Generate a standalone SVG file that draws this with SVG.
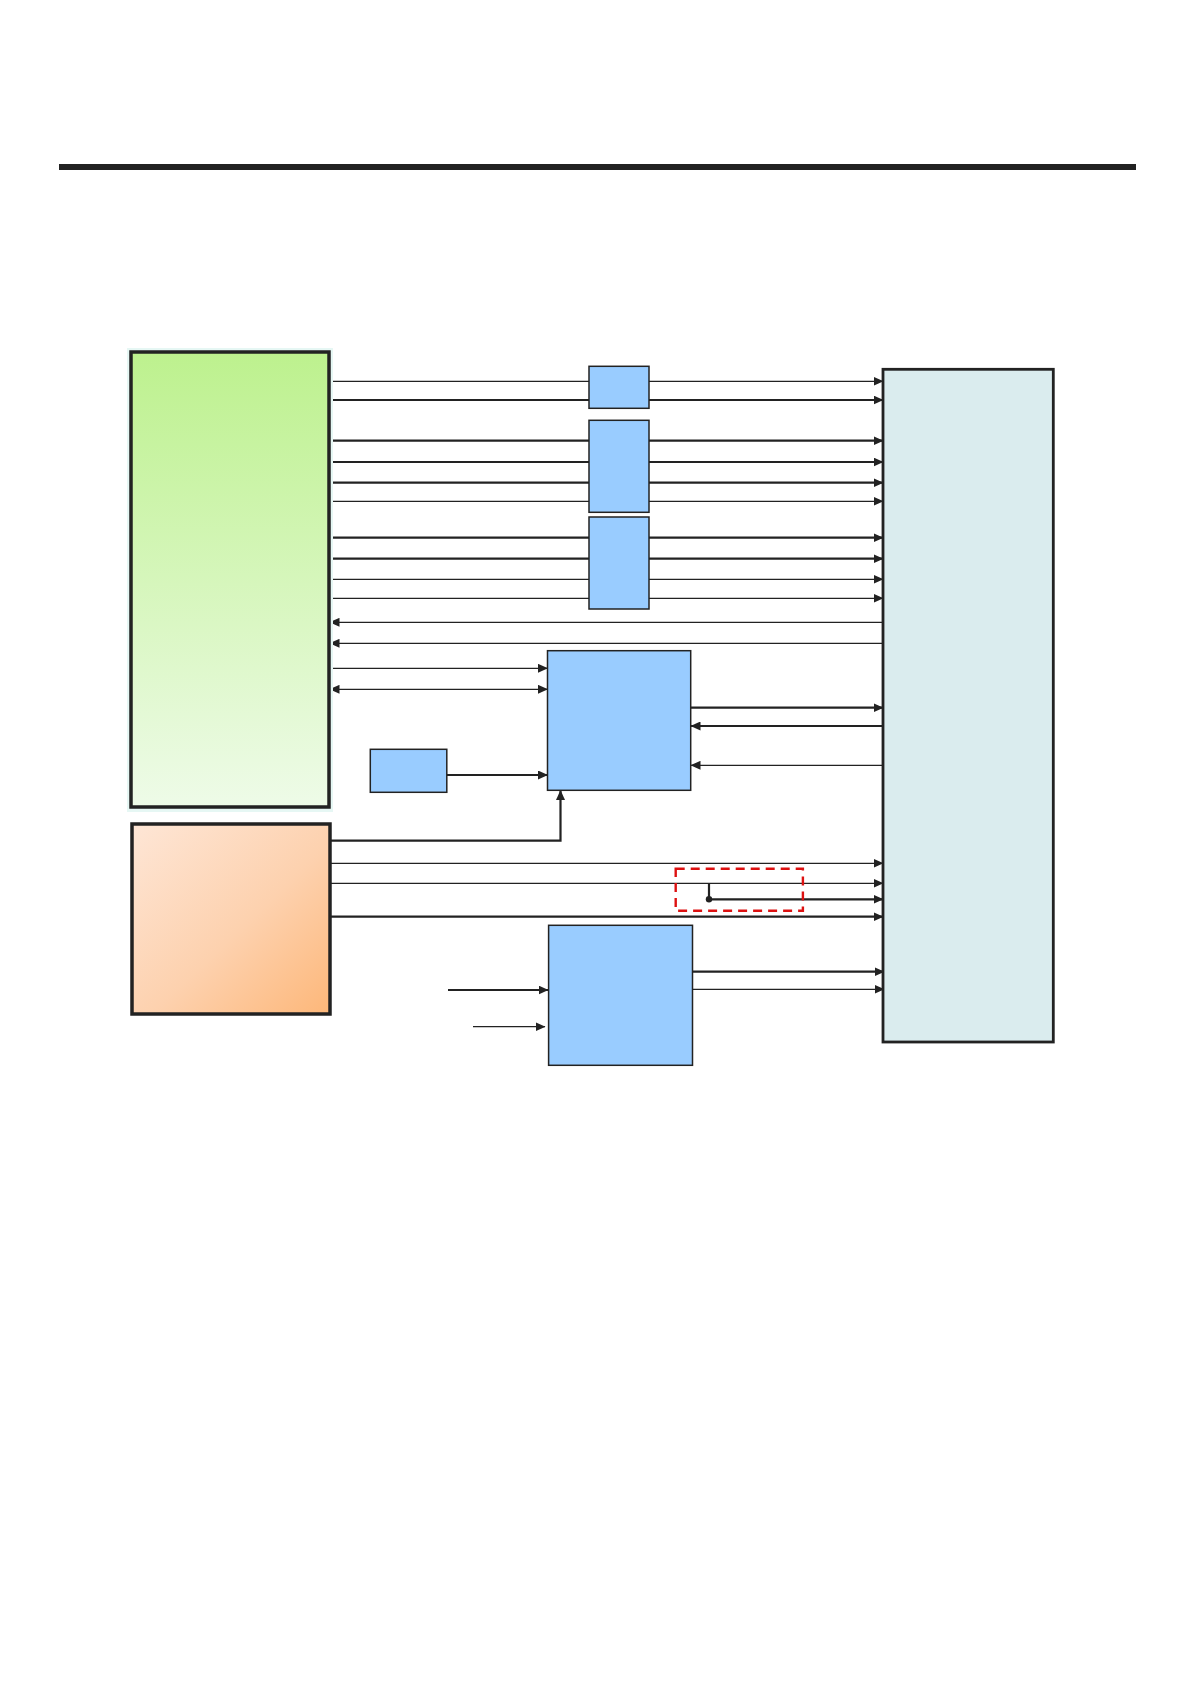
<svg xmlns="http://www.w3.org/2000/svg" width="1191" height="1684" viewBox="0 0 1191 1684">
<defs>
<linearGradient id="gGreen" x1="0" y1="0" x2="0" y2="1">
<stop offset="0" stop-color="#bdf18e"/>
<stop offset="1" stop-color="#eefbe8"/>
</linearGradient>
<linearGradient id="gOrange" x1="0" y1="0" x2="1" y2="1">
<stop offset="0" stop-color="#fee6d6"/>
<stop offset="0.55" stop-color="#fdd1ae"/>
<stop offset="1" stop-color="#fdb779"/>
</linearGradient>
<marker id="arr" markerUnits="userSpaceOnUse" markerWidth="10" markerHeight="9" refX="9.5" refY="4.5" orient="auto-start-reverse" viewBox="0 0 10 9">
<path d="M0,0 L10,4.5 L0,9 z" fill="#222"/>
</marker>
</defs>
<style>
.thin{stroke:#222;stroke-width:1.2;fill:none}
.thick{stroke:#222;stroke-width:2.2;fill:none}
.a{marker-end:url(#arr)}
.b{marker-start:url(#arr)}
.blue{fill:#99ccff;stroke:#222;stroke-width:1.5}
</style>
<rect x="59" y="164" width="1077" height="6" fill="#222"/>
<g id="connectors">
<line class="thin" x1="330" y1="381.3" x2="589" y2="381.3"/>
<line class="thin a" x1="649" y1="381.3" x2="883" y2="381.3"/>
<line class="thick" x1="330" y1="400" x2="589" y2="400"/>
<line class="thick a" x1="649" y1="400" x2="883" y2="400"/>
<line class="thick" x1="330" y1="440.7" x2="589" y2="440.7"/>
<line class="thick a" x1="649" y1="440.7" x2="883" y2="440.7"/>
<line class="thick" x1="330" y1="462" x2="589" y2="462"/>
<line class="thick a" x1="649" y1="462" x2="883" y2="462"/>
<line class="thick" x1="330" y1="482.7" x2="589" y2="482.7"/>
<line class="thick a" x1="649" y1="482.7" x2="883" y2="482.7"/>
<line class="thin" x1="330" y1="501.3" x2="589" y2="501.3"/>
<line class="thin a" x1="649" y1="501.3" x2="883" y2="501.3"/>
<line class="thick" x1="330" y1="537.7" x2="589" y2="537.7"/>
<line class="thick a" x1="649" y1="537.7" x2="883" y2="537.7"/>
<line class="thick" x1="330" y1="558.7" x2="589" y2="558.7"/>
<line class="thick a" x1="649" y1="558.7" x2="883" y2="558.7"/>
<line class="thin" x1="330" y1="579.3" x2="589" y2="579.3"/>
<line class="thin a" x1="649" y1="579.3" x2="883" y2="579.3"/>
<line class="thin" x1="330" y1="598.3" x2="589" y2="598.3"/>
<line class="thin a" x1="649" y1="598.3" x2="883" y2="598.3"/>
<line class="thin a" x1="883" y1="622.3" x2="330" y2="622.3"/>
<line class="thin a" x1="883" y1="643.3" x2="330" y2="643.3"/>
<line class="thin a" x1="330" y1="668.3" x2="547.5" y2="668.3"/>
<line class="thin a b" x1="330" y1="689.3" x2="547.5" y2="689.3"/>
<line class="thick a" x1="447" y1="775" x2="547.5" y2="775"/>
<polyline class="thick a" points="330,840.7 560.5,840.7 560.5,790.5"/>
<line class="thick a" x1="691" y1="707.7" x2="883" y2="707.7"/>
<line class="thick a" x1="883" y1="726" x2="691" y2="726"/>
<line class="thin a" x1="883" y1="765.3" x2="691" y2="765.3"/>
<line class="thin a" x1="330" y1="863.3" x2="883" y2="863.3"/>
<line class="thin a" x1="327" y1="883.3" x2="883" y2="883.3"/>
<polyline class="thick a" points="709,883.3 709,899.3 883,899.3"/>
<circle cx="709" cy="899.3" r="3.2" fill="#222"/>
<line class="thick a" x1="327" y1="916.7" x2="883" y2="916.7"/>
<line class="thick a" x1="693" y1="971.7" x2="884" y2="971.7"/>
<line class="thin a" x1="693" y1="989.3" x2="884" y2="989.3"/>
<line class="thick a" x1="448" y1="990" x2="548" y2="990"/>
<line class="thin a" x1="473" y1="1026.7" x2="545" y2="1026.7"/>
</g>
<g id="node-green">
<rect x="127" y="348" width="206" height="464" fill="#e6f7f4"/>
<rect x="131" y="352" width="198" height="455" fill="url(#gGreen)" stroke="#222" stroke-width="3.5"/>
</g>
<g id="node-orange">
<rect x="132" y="824" width="198" height="190" fill="url(#gOrange)" stroke="#222" stroke-width="3.5"/>
</g>
<g id="node-buf1"><rect class="blue" x="589" y="366.3" width="60" height="42"/></g>
<g id="node-buf2"><rect class="blue" x="589" y="420.3" width="60" height="92"/></g>
<g id="node-buf3"><rect class="blue" x="589" y="517" width="60" height="92"/></g>
<g id="node-mid"><rect class="blue" x="547.5" y="650.7" width="143.2" height="139.6"/></g>
<g id="node-small"><rect class="blue" x="370.3" y="749.3" width="76.5" height="43" stroke-width="2"/></g>
<g id="node-low"><rect class="blue" x="548.6" y="925.3" width="143.9" height="140"/></g>
<g id="node-right"><rect x="883" y="369.3" width="170.3" height="672.7" fill="#daecee" stroke="#222" stroke-width="2.8"/></g>
<g id="dashed-box"><rect x="675.7" y="868.7" width="127.2" height="42" fill="none" stroke="#dd1111" stroke-width="2.4" stroke-dasharray="9,6"/></g>
</svg>
